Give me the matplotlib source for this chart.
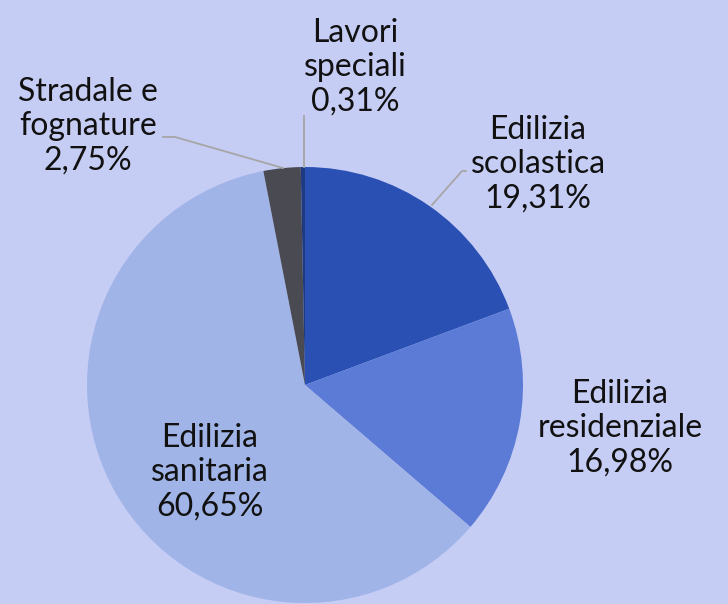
import matplotlib.pyplot as plt

categories = ["Edilizia\nscolastica", "Edilizia\nresidenziale", "Edilizia\nsanitaria",
              "Stradale e\nfognature", "Lavori\nspeciali"]
values = [19.31, 16.98, 60.65, 2.75, 0.31]
colors = ["#2b50b4", "#5b7bd6", "#a1b4e8", "#4a4a52", "#1f3a80"]

# label positions (pixels from top-left) and leader lines
label_pos = [(538, 164), (620, 428), (210, 472), (88, 126), (355, 67)]
leaders = [
    [(432, 205), (462, 171), (466, 171)],
    None,
    None,
    [(283, 168), (175, 137), (163, 137)],
    [(304, 167), (304, 116)],
]

bg = "#c6cdf5"
H = 604
fig = plt.figure(figsize=(7.28, 6.04), dpi=100, facecolor=bg)
ax = fig.add_axes([0, 0, 1, 1])
ax.set_facecolor(bg)

ax.pie(values, colors=colors, startangle=90, counterclock=False,
       center=(305, H - 385), radius=218, frame=True,
       wedgeprops=dict(linewidth=0))
ax.set_xlim(0, 728)
ax.set_ylim(0, H)
ax.set_aspect("equal")
ax.axis("off")

for cat, v, (x, y), ld in zip(categories, values, label_pos, leaders):
    txt = cat + "\n" + f"{v:.2f}".replace(".", ",") + "%"
    ax.text(x, H - y, txt, ha="center", va="center", fontsize=23,
            family="Lato", color="#111111", linespacing=1.17)
    if ld:
        ax.plot([p[0] for p in ld], [H - p[1] for p in ld],
                color="#a6a6a6", lw=1.3)

fig.savefig("out.png", dpi=100, facecolor=bg)
